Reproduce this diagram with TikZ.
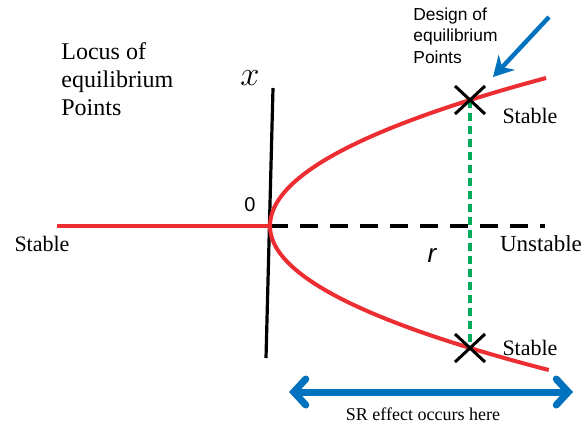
\documentclass[tikz,border=0pt]{standalone}
\usepackage{fontspec}
\setmainfont{Liberation Serif}
\newfontfamily\sansfont{Liberation Sans}
\usepackage{xcolor}
\usetikzlibrary{arrows.meta}
\definecolor{locusred}{RGB}{236,45,50}
\definecolor{srblue}{RGB}{0,114,190}
\definecolor{designgreen}{RGB}{0,172,90}

\begin{document}
\begin{tikzpicture}[x=0.5pt,y=-0.5pt]
  \useasboundingbox (0,0) rectangle (587,424);
  % labels
  \node[align=left,anchor=north west,font=\fontsize{12}{14}\selectfont,inner sep=0pt] (locus) at (61,42) {Locus of\\equilibrium\\Points};
  \node[align=left,anchor=north west,font=\sansfont\fontsize{8.7}{10.8}\selectfont,inner sep=0pt] (design) at (413,7) {Design of\\equilibrium\\Points};
  \node[font=\fontsize{16}{16}\selectfont] (xlab) at (250,78) {$x$};
  \node[font=\sansfont\fontsize{10}{10}\selectfont] (zero) at (250,205) {0};
  \node[font=\sansfont\fontsize{13}{13}\selectfont\itshape] (rlab) at (432,255) {r};
  \node[font=\fontsize{11}{11}\selectfont] (stleft) at (42,244) {Stable};
  \node[font=\fontsize{11.5}{11.5}\selectfont] (unst) at (541,244) {Unstable};
  \node[font=\fontsize{11}{11}\selectfont] (stup) at (530,116) {Stable};
  \node[font=\fontsize{11}{11}\selectfont] (stlow) at (530,348) {Stable};
  \node[font=\fontsize{9}{9}\selectfont] (sr) at (423,414) {SR effect occurs here};
  % axes
  \coordinate (origin) at (270,226);
  \coordinate (xtop) at (273,88);
  \coordinate (xbot) at (266,358);
  \coordinate (rend) at (545,226);
  \draw[line width=1.6pt] (xtop) -- (xbot);
  \draw[line width=1.6pt,dash pattern=on 9pt off 6pt] (origin) -- (rend);
  % locus
  \coordinate (rleft) at (57,226);
  \draw[locusred,line width=2pt] (rleft) -- (origin);
  \draw[locusred,line width=2pt,smooth] plot[domain=0:148,samples=60] ({270+0.0126*\x*\x},{226-\x});
  \draw[locusred,line width=2pt,smooth] plot[domain=0:144,samples=60] ({270+0.01344*\x*\x},{226+\x});
  % design points
  \coordinate (pup) at (470,100);
  \coordinate (plow) at (470,348);
  \draw[designgreen,line width=1.6pt,dash pattern=on 4pt off 2.5pt] (pup) -- (plow);
  \foreach \p in {pup,plow} {
    \draw[line width=1.5pt] ([shift={(-15,-14)}]\p) -- ([shift={(15,14)}]\p);
    \draw[line width=1.5pt] ([shift={(-15,14)}]\p) -- ([shift={(15,-14)}]\p);
  }
  % arrows
  \coordinate (btail) at (549,17);
  \coordinate (bhead) at (493,77);
  \draw[srblue,line width=2.2pt,-{Stealth[length=10pt,width=11pt]}] (btail) -- (bhead);
  \coordinate (srl) at (289,392);
  \coordinate (srr) at (573,392);
  \draw[srblue,line width=3.5pt,line cap=round,{Straight Barb[length=6pt,width=13pt,line cap=round]}-{Straight Barb[length=6pt,width=13pt,line cap=round]}] (srl) -- (srr);
\end{tikzpicture}
\end{document}
